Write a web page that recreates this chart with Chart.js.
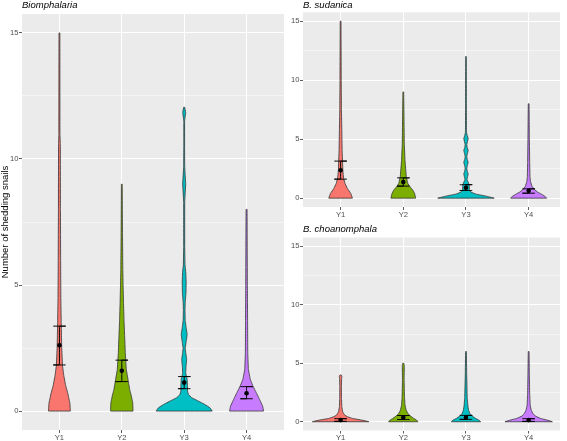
<!DOCTYPE html>
<html><head><meta charset="utf-8">
<script src="https://cdn.jsdelivr.net/npm/chart.js@4.4.0/dist/chart.umd.min.js"></script>
<style>
html,body{margin:0;padding:0;background:#fff;width:567px;height:441px;overflow:hidden;}
canvas{position:absolute;}
</style></head><body>
<canvas id="cL" width="290" height="441" style="left:0;top:0"></canvas>
<canvas id="cT" width="277" height="220" style="left:290px;top:0"></canvas>
<canvas id="cB" width="277" height="221" style="left:290px;top:220px"></canvas>
<script>
// ---------- data ----------
const categories = ['Y1', 'Y2', 'Y3', 'Y4'];
const categoryPositions = [1, 2, 3, 4];
const yTickValues = [0, 2.5, 5, 7.5, 10, 12.5, 15];
const yAxisTitle = 'Number of shedding snails';

// Biomphalaria (all): mean and CI
const bioTitle = 'Biomphalaria';
const bioMean  = [2.61, 1.60, 1.13, 0.71];
const bioLower = [1.83, 1.17, 0.89, 0.49];
const bioUpper = [3.37, 2.02, 1.37, 0.97];
// violin profiles: [count, relative density width]
const bioY1 = [[0,0.39],[0.3,0.375],[0.7,0.30],[1.0,0.225],[1.4,0.157],[1.8,0.11],[2.5,0.082],[3.5,0.064],[4.5,0.05],[6,0.043],[8,0.036],[10.6,0.032],[11,0.018],[15,0.015]];
const bioY2 = [[0,0.40],[0.33,0.39],[0.6,0.34],[0.86,0.28],[1.06,0.25],[1.65,0.16],[2.3,0.125],[3.0,0.10],[3.6,0.079],[4.3,0.061],[5.0,0.046],[5.6,0.036],[7,0.025],[9,0.014]];
const bioY3 = [[0,1.0],[0.13,0.92],[0.26,0.74],[0.4,0.5],[0.53,0.27],[0.66,0.15],[0.8,0.118],[1.0,0.118],[1.26,0.107],[1.5,0.054],[1.75,0.064],[2.05,0.089],[2.3,0.057],[2.5,0.036],[2.75,0.071],[3.04,0.107],[3.3,0.071],[3.6,0.036],[4.0,0.029],[4.3,0.036],[4.7,0.064],[5.1,0.071],[5.5,0.057],[5.8,0.029],[6.5,0.018],[8.3,0.018],[9.0,0.054],[9.7,0.018],[10.5,0.014],[11.5,0.014],[11.85,0.054],[12.05,0.018]];
const bioY4 = [[0,0.607],[0.2,0.571],[0.46,0.464],[0.73,0.346],[1.0,0.225],[1.26,0.132],[1.65,0.064],[2.3,0.043],[3.6,0.036],[5,0.029],[8,0.018]];

// B. sudanica
const sudTitle = 'B. sudanica';
const sudMean  = [2.37, 1.36, 0.88, 0.62];
const sudLower = [1.61, 1.02, 0.65, 0.42];
const sudUpper = [3.14, 1.72, 1.14, 0.79];
const sudY1 = [[0,0.42],[0.4,0.36],[0.82,0.24],[1.25,0.155],[1.67,0.108],[2.37,0.079],[4.07,0.054],[5.76,0.043],[7.46,0.029],[10,0.022],[15,0.014]];
const sudY2 = [[0,0.44],[0.4,0.40],[0.68,0.34],[0.96,0.24],[1.25,0.16],[1.8,0.108],[3.2,0.061],[4.6,0.036],[6.0,0.029],[9,0.014]];
const sudY3 = [[0,1.0],[0.17,0.72],[0.34,0.36],[0.51,0.18],[0.73,0.119],[1.0,0.119],[1.3,0.09],[1.55,0.036],[1.8,0.054],[2.05,0.079],[2.3,0.043],[2.55,0.029],[2.8,0.054],[3.05,0.079],[3.3,0.043],[3.55,0.029],[3.8,0.054],[4.05,0.079],[4.3,0.043],[4.55,0.029],[4.8,0.054],[5.05,0.079],[5.3,0.043],[5.6,0.018],[8,0.014],[12,0.011]];
const sudY4 = [[0,0.64],[0.17,0.57],[0.34,0.45],[0.51,0.32],[0.73,0.205],[1.0,0.119],[1.4,0.065],[1.8,0.047],[3,0.036],[5,0.025],[8,0.014]];

// B. choanomphala
const choTitle = 'B. choanomphala';
const choMean  = [0.14, 0.36, 0.37, 0.14];
const choLower = [0.03, 0.19, 0.20, 0.03];
const choUpper = [0.26, 0.53, 0.54, 0.26];
const choY1 = [[0,1.0],[0.14,0.755],[0.28,0.42],[0.43,0.24],[0.57,0.144],[0.85,0.072],[1.28,0.043],[2,0.032],[3,0.029],[3.7,0.036],[3.9,0.047],[4,0.022]];
const choY2 = [[0,0.52],[0.14,0.47],[0.28,0.37],[0.48,0.26],[0.71,0.16],[1.0,0.10],[1.42,0.061],[2.1,0.043],[3.6,0.029],[4.8,0.036],[5,0.018]];
const choY3 = [[0,0.52],[0.14,0.46],[0.28,0.34],[0.48,0.22],[0.71,0.137],[1.0,0.09],[1.42,0.065],[2.1,0.043],[4,0.025],[6,0.014]];
const choY4 = [[0,0.84],[0.14,0.66],[0.28,0.42],[0.48,0.24],[0.71,0.15],[1.0,0.09],[1.42,0.054],[2.4,0.036],[4,0.025],[6,0.014]];

// ---------- style ----------
const fillColours = ['#F8766D', '#7CAE00', '#00BFC4', '#C77CFF'];
const FONT = '"Liberation Sans", Arial, sans-serif';
const HALF = 0.45;      // max violin half width (category units)
const ERR_HALF = 0.1;   // error bar half width
const TINY_TENSION = 0.0001; // non-zero so the line is drawn point by point (no fast path)

const panelBg = {
  id: 'panelBg',
  beforeDraw(chart) {
    const {ctx, chartArea: a} = chart;
    ctx.save();
    ctx.fillStyle = '#EBEBEB';
    ctx.fillRect(a.left, a.top, a.right - a.left, a.bottom - a.top);
    ctx.restore();
  }
};

function violinPoints(c, profile) {
  const right = profile.map(([y, r]) => ({x: c + r * HALF, y}));
  const left = profile.slice().reverse().map(([y, r]) => ({x: c - r * HALF, y}));
  return right.concat(left, [right[0]]);
}

function makeChart(id, cfg) {
  const datasets = [];
  cfg.violins.forEach((prof, i) => {
    datasets.push({
      data: violinPoints(categoryPositions[i], prof),
      backgroundColor: fillColours[i],
      borderColor: '#333333',
      borderWidth: 0.8,
      pointRadius: 0,
      fill: 'shape',
      tension: TINY_TENSION,
      order: 3
    });
  });
  categoryPositions.forEach((c, i) => {
    const lo = cfg.lower[i], hi = cfg.upper[i];
    datasets.push({
      data: [{x: c - ERR_HALF, y: hi}, {x: c + ERR_HALF, y: hi}, {x: c, y: hi}, {x: c, y: lo}, {x: c - ERR_HALF, y: lo}, {x: c + ERR_HALF, y: lo}],
      borderColor: '#000000',
      borderWidth: 1,
      pointRadius: 0,
      fill: false,
      tension: TINY_TENSION,
      order: 2
    });
  });
  datasets.push({
    data: categoryPositions.map((c, i) => ({x: c, y: cfg.mean[i]})),
    showLine: false,
    pointRadius: 2.3,
    pointBackgroundColor: '#000000',
    pointBorderWidth: 0,
    order: 1
  });

  return new Chart(document.getElementById(id), {
    type: 'line',
    data: {datasets},
    plugins: [panelBg],
    options: {
      responsive: false,
      animation: false,
      devicePixelRatio: 1,
      layout: {padding: {left: 0, right: cfg.padRight, top: 0, bottom: 0}},
      plugins: {
        legend: {display: false},
        tooltip: {enabled: false},
        title: {
          display: true, text: cfg.title, align: 'start', fullSize: false,
          color: '#000000',
          font: {family: FONT, size: 9.5, style: 'italic', weight: 'normal', lineHeight: 1.2},
          padding: cfg.titlePad
        }
      },
      scales: {
        x: {
          type: 'linear', min: cfg.xMin, max: cfg.xMax,
          afterBuildTicks: s => { s.ticks = categoryPositions.map(v => ({value: v})); },
          afterFit: s => { s.height = cfg.xAxisH; },
          border: {display: false},
          grid: {color: '#FFFFFF', lineWidth: 1, tickColor: '#333333', tickLength: 3, tickWidth: 0.8},
          ticks: {
            autoSkip: false, maxRotation: 0, minRotation: 0, padding: 0,
            color: '#4D4D4D', font: {family: FONT, size: 7.6},
            callback: v => categories[Math.round(v) - 1]
          }
        },
        y: {
          type: 'linear', min: -0.75, max: 15.75,
          afterBuildTicks: s => { s.ticks = yTickValues.map(v => ({value: v})); },
          afterFit: s => { s.width = cfg.yAxisW; },
          border: {display: false},
          grid: {
            color: '#FFFFFF',
            lineWidth: c => (c.tick && c.tick.value % 5 === 0) ? 1 : 0.5,
            tickColor: c => (c.tick && c.tick.value % 5 === 0) ? '#333333' : 'rgba(0,0,0,0)',
            tickLength: 3, tickWidth: 0.8
          },
          ticks: {
            padding: 0.5, color: '#4D4D4D', font: {family: FONT, size: 7.6},
            callback: v => (v % 5 === 0 ? String(v) : '')
          },
          title: {
            display: !!cfg.yTitle, text: cfg.yTitle || '', color: '#000000',
            font: {family: FONT, size: 9.5}, padding: 0
          }
        }
      }
    }
  });
}

makeChart('cL', {
  title: bioTitle, violins: [bioY1, bioY2, bioY3, bioY4],
  mean: bioMean, lower: bioLower, upper: bioUpper,
  xMin: 0.4, xMax: 4.6, padRight: 6, xAxisH: 11, yAxisW: 22,
  titlePad: {top: 0, bottom: 2.6}, yTitle: yAxisTitle
});
makeChart('cT', {
  title: sudTitle, violins: [sudY1, sudY2, sudY3, sudY4],
  mean: sudMean, lower: sudLower, upper: sudUpper,
  xMin: 0.4, xMax: 4.5, padRight: 7, xAxisH: 13, yAxisW: 13,
  titlePad: {top: 0, bottom: 0.9}
});
makeChart('cB', {
  title: choTitle, violins: [choY1, choY2, choY3, choY4],
  mean: choMean, lower: choLower, upper: choUpper,
  xMin: 0.4, xMax: 4.5, padRight: 7, xAxisH: 10.5, yAxisW: 13,
  titlePad: {top: 3.5, bottom: 2.6}
});
</script>
</body></html>
